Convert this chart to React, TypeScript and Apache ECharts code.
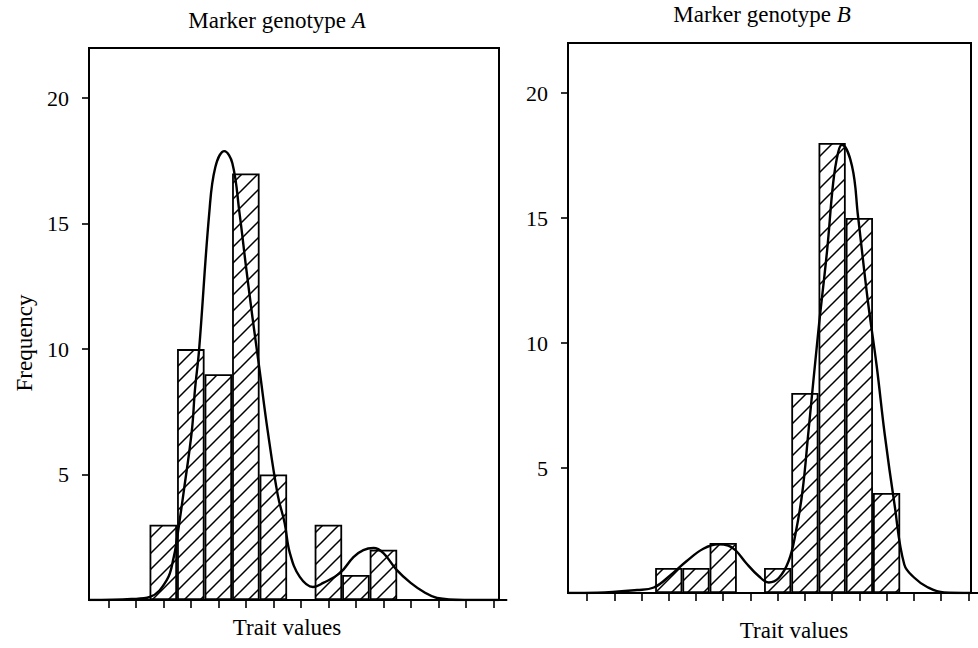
import React, { useEffect, useRef } from "react";
import * as echarts from "echarts";

// Histogram bins (tick positions on the trait axis)
const binIndex = [0, 1, 2, 3, 4, 5, 6, 7, 8, 9, 10, 11, 12, 13, 14];
// Frequencies per bin
const countsA = [0, 0, 3, 10, 9, 17, 5, 0, 3, 1, 2, 0, 0, 0, 0];
const countsB = [0, 0, 0, 1, 1, 2, 0, 1, 8, 18, 15, 4, 0, 0, 0];
// Frequency tick labels
const yTicks = [5, 10, 15, 20];

// Fitted density curve, genotype A
const curveAX = [-0.7, 0.85, 1.51, 2.13, 2.38, 2.49, 2.75, 3.04, 3.15, 3.3, 3.67, 3.89, 4.22, 4.51, 4.77, 4.99, 5.24, 5.5, 5.79, 6.16, 6.41, 6.6, 6.96, 7.44, 7.81, 8.43, 8.91, 9.27, 9.64, 10.0, 10.48, 10.99, 11.47, 11.95, 12.93, 14.2];
const curveAY = [0, 0.04, 0.12, 0.8, 1.71, 2.39, 4.38, 6.77, 8.37, 9.96, 15.42, 17.25, 17.89, 17.41, 15.42, 13.43, 11.27, 9.16, 6.77, 4.18, 3.07, 1.87, 0.92, 0.52, 0.68, 1.08, 1.71, 1.99, 2.07, 1.87, 1.2, 0.68, 0.32, 0.08, 0, 0];

// Fitted density curve, genotype B
const curveBX = [-0.7, 0.38, 1.84, 2.45, 3.04, 3.65, 4.27, 4.82, 5.18, 5.47, 5.84, 6.31, 6.67, 7.04, 7.4, 7.65, 7.91, 8.13, 8.49, 8.82, 9.04, 9.22, 9.36, 9.73, 9.95, 10.31, 10.64, 10.93, 11.29, 11.65, 12.02, 12.49, 13.11, 14.1];
const curveBY = [0, 0.01, 0.12, 0.22, 0.69, 1.27, 1.77, 1.95, 1.9, 1.69, 1.2, 0.67, 0.42, 0.6, 1.27, 2.34, 4.06, 6.45, 10.44, 13.75, 16.42, 17.62, 17.93, 17.08, 15.08, 11.7, 9.05, 6.36, 3.55, 1.14, 0.61, 0.24, 0.02, 0];

const SERIF = "'Liberation Serif', 'DejaVu Serif', serif";

function makeHatch(): HTMLCanvasElement {
  const s = 16;
  const c = document.createElement("canvas");
  c.width = s;
  c.height = s;
  const ctx = c.getContext("2d")!;
  ctx.fillStyle = "#fff";
  ctx.fillRect(0, 0, s, s);
  ctx.strokeStyle = "#000";
  ctx.lineWidth = 1.5;
  ctx.beginPath();
  ctx.moveTo(-2, s + 2);
  ctx.lineTo(s + 2, -2);
  ctx.moveTo(-3, 3);
  ctx.lineTo(3, -3);
  ctx.moveTo(s - 3, s + 3);
  ctx.lineTo(s + 3, s - 3);
  ctx.stroke();
  return c;
}

export default function App() {
  const ref = useRef<HTMLDivElement>(null);

  useEffect(() => {
    if (!ref.current) return;
    const chart = echarts.init(ref.current, null, { renderer: "svg" });
    const hatch = { image: makeHatch(), repeat: "repeat" } as any;

    const xAxisBase = (gridIndex: number, max: number) => ({
      type: "value",
      gridIndex,
      min: -0.7,
      max,
      axisLine: { show: true, onZero: false, lineStyle: { color: "#000", width: 2 } },
      axisTick: {
        show: true,
        customValues: binIndex,
        inside: false,
        length: 8,
        lineStyle: { color: "#000", width: 1.6 },
      },
      axisLabel: { show: false },
      splitLine: { show: false },
    });

    const yAxisBase = (gridIndex: number) => ({
      type: "value",
      gridIndex,
      min: 0,
      max: 22,
      axisLine: { show: true, onZero: false, lineStyle: { color: "#000", width: 2 } },
      axisTick: {
        show: true,
        customValues: yTicks,
        inside: false,
        length: 7,
        lineStyle: { color: "#000", width: 1.6 },
      },
      axisLabel: {
        show: true,
        customValues: yTicks,
        color: "#000",
        fontFamily: SERIF,
        fontSize: 22,
        margin: 20,
      },
      splitLine: { show: false },
    });

    const barStyle = {
      color: hatch,
      borderColor: "#000",
      borderWidth: 1.8,
    };

    chart.setOption({
      animation: false,
      backgroundColor: "#fff",
      textStyle: { fontFamily: SERIF },
      grid: [
        { left: 89, top: 48, width: 410, height: 552, show: true, borderColor: "#000", borderWidth: 2, backgroundColor: "transparent" },
        { left: 568, top: 43, width: 403, height: 550, show: true, borderColor: "#000", borderWidth: 2, backgroundColor: "transparent" },
      ],
      xAxis: [xAxisBase(0, 14.2), xAxisBase(1, 14.1)],
      yAxis: [yAxisBase(0), yAxisBase(1)],
      series: [
        {
          name: "Marker genotype A",
          type: "bar",
          xAxisIndex: 0,
          yAxisIndex: 0,
          barWidth: "100%",
          data: binIndex.map((b, i) => [b, countsA[i]]),
          itemStyle: barStyle,
        },
        {
          name: "Density A",
          type: "line",
          xAxisIndex: 0,
          yAxisIndex: 0,
          smooth: 0.4,
          symbol: "none",
          data: curveAX.map((x, i) => [x, curveAY[i]]),
          lineStyle: { color: "#000", width: 2.4 },
          z: 5,
        },
        {
          name: "Marker genotype B",
          type: "bar",
          xAxisIndex: 1,
          yAxisIndex: 1,
          barWidth: "100%",
          data: binIndex.map((b, i) => [b, countsB[i]]),
          itemStyle: barStyle,
        },
        {
          name: "Density B",
          type: "line",
          xAxisIndex: 1,
          yAxisIndex: 1,
          smooth: 0.4,
          symbol: "none",
          data: curveBX.map((x, i) => [x, curveBY[i]]),
          lineStyle: { color: "#000", width: 2.4 },
          z: 5,
        },
      ],
      graphic: [
        {
          type: "text",
          x: 277,
          y: 20,
          style: {
            text: "{n|Marker genotype }{i|A}",
            rich: {
              n: { fontFamily: SERIF, fontSize: 23, fill: "#000" },
              i: { fontFamily: SERIF, fontSize: 23, fontStyle: "italic", fill: "#000" },
            },
            align: "center",
            verticalAlign: "middle",
            fill: "#000",
          },
        },
        {
          type: "text",
          x: 762,
          y: 14,
          style: {
            text: "{n|Marker genotype }{i|B}",
            rich: {
              n: { fontFamily: SERIF, fontSize: 23, fill: "#000" },
              i: { fontFamily: SERIF, fontSize: 23, fontStyle: "italic", fill: "#000" },
            },
            align: "center",
            verticalAlign: "middle",
            fill: "#000",
          },
        },
        {
          type: "text",
          x: 287,
          y: 627,
          style: { text: "Trait values", font: `23px ${SERIF}`, fill: "#000", align: "center", verticalAlign: "middle" },
        },
        {
          type: "text",
          x: 794,
          y: 630,
          style: { text: "Trait values", font: `23px ${SERIF}`, fill: "#000", align: "center", verticalAlign: "middle" },
        },
        {
          type: "text",
          x: 24,
          y: 343,
          rotation: Math.PI / 2,
          style: { text: "Frequency", font: `23px ${SERIF}`, fill: "#000", align: "center", verticalAlign: "middle" },
        },
      ],
    });

    return () => chart.dispose();
  }, []);

  return (
    <div
      ref={ref}
      style={{ position: "fixed", left: 0, top: 0, width: 978, height: 648, background: "#fff" }}
    />
  );
}
